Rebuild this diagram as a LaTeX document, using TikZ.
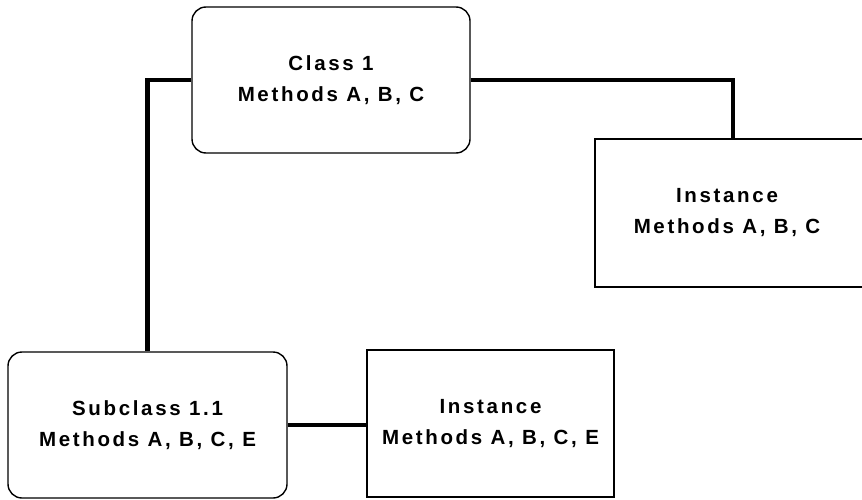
\documentclass[tikz,border=0pt]{standalone}
\usepackage{fontspec}
\setmainfont{Liberation Sans}[LetterSpace=13]
\begin{document}
\begin{tikzpicture}[x=1pt,y=-1pt,
  boxtext/.style={align=center,font=\fontsize{20.5}{31}\selectfont\bfseries,inner sep=0pt},
  rbox/.style={draw=black,line width=1.4pt,fill=white,rounded corners=14pt,boxtext},
  sbox/.style={draw=black,line width=1.4pt,fill=white,boxtext},
  conn/.style={line width=4.5pt}]
\useasboundingbox (0,0) rectangle (862,500);
\node[rbox,minimum width=278pt,minimum height=146pt] (c1) at (331,80) {Class 1\\Methods A, B, C};
\node[sbox,minimum width=280pt,minimum height=148pt] (i1) at (735,213) {\hspace*{-16pt}Instance\\\hspace*{-16pt}Methods A, B, C};
\node[rbox,minimum width=279pt,minimum height=146pt] (sub) at (147.5,425) {Subclass 1.1\\Methods A, B, C, E};
\node[sbox,minimum width=247pt,minimum height=147pt] (i2) at (490.5,423.5) {Instance\\Methods A, B, C, E};
\draw[conn] (c1.west) -| (sub.north);
\draw[conn] (c1.east) -| ([xshift=-2pt]i1.north);
\draw[conn] (sub.east) -- (sub.east -| i2.west);
\end{tikzpicture}
\end{document}
